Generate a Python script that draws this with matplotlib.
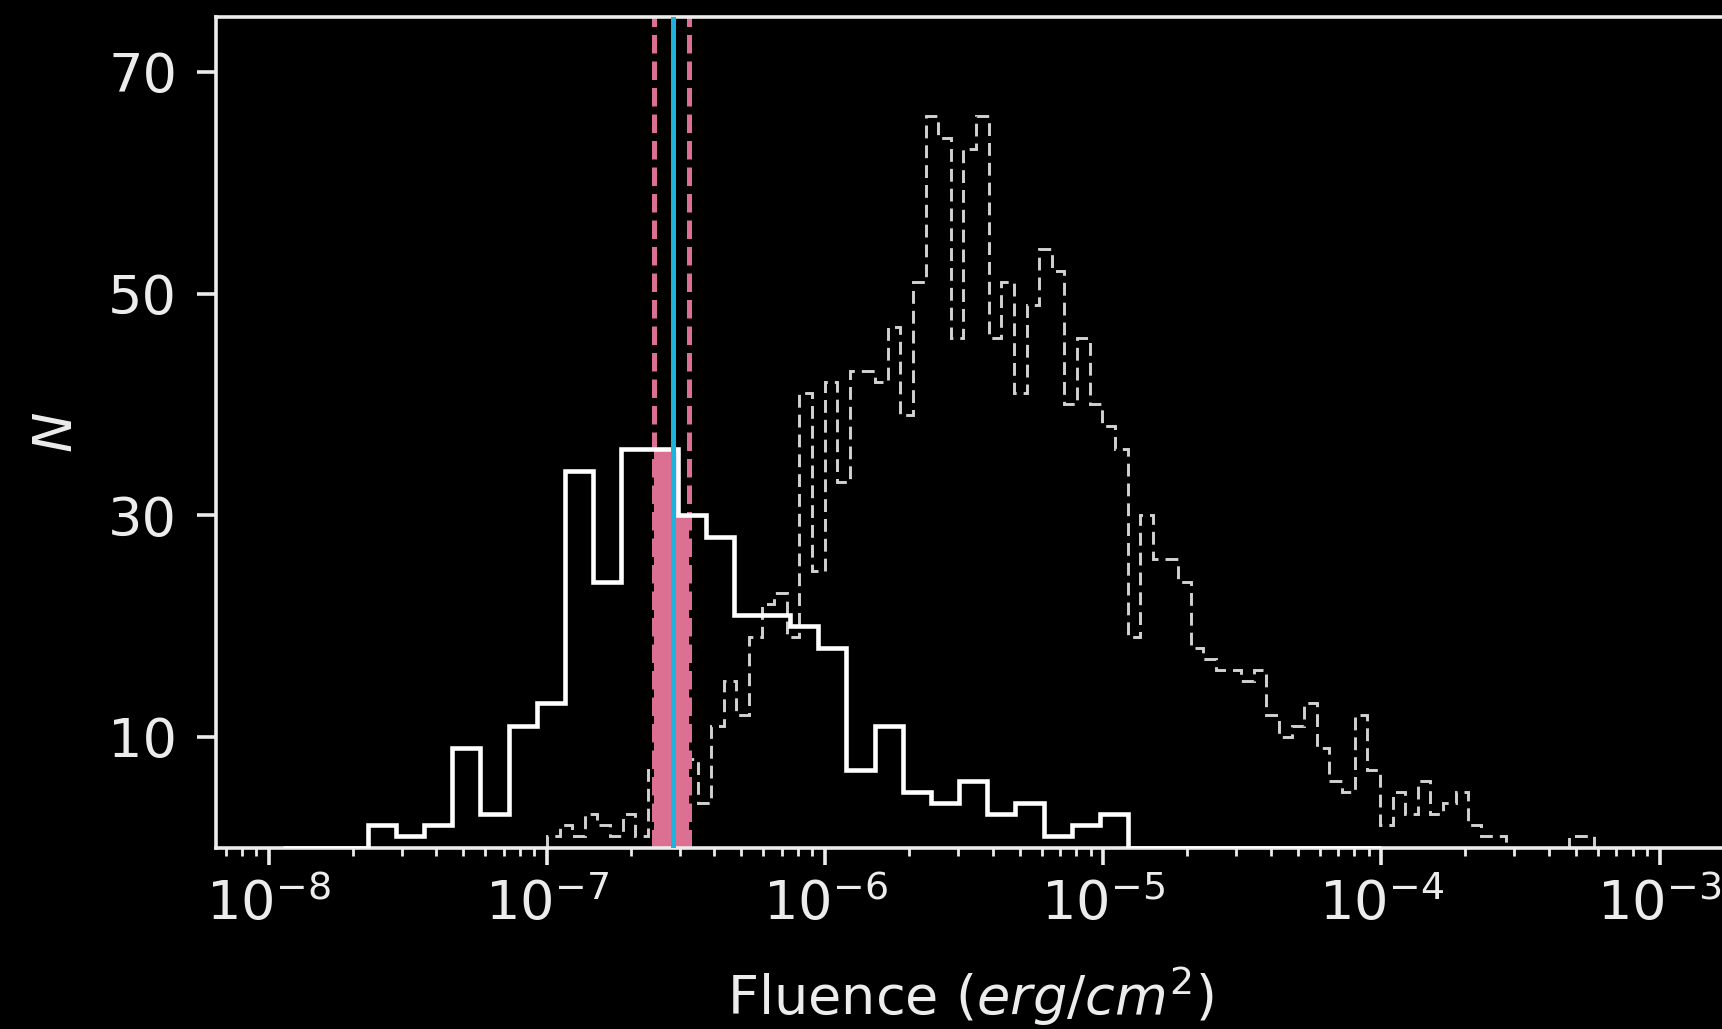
import numpy as np
import matplotlib
matplotlib.use('Agg')
import matplotlib.pyplot as plt

# bright sample: 39 log-spaced bins (exponents of the outer edges)
solid_lo, solid_hi = -7.948, -4.0
solid_counts = [0, 0, 0, 2, 1, 2, 9, 3, 11, 13, 34, 24, 36, 36, 30, 28, 21, 21, 20, 18,
                7, 11, 5, 4, 6, 3, 4, 1, 2, 3, 0, 0, 0, 0, 0, 0, 0, 0, 0]

# full sample: 83 log-spaced bins
dashed_lo, dashed_hi = -7.0, -3.234
dashed_counts = [1, 2, 1, 3, 2, 1, 3, 1, 7, 8, 6, 8, 4, 11, 15, 12, 19, 22, 23, 19,
                 41, 25, 42, 33, 43, 43, 42, 47, 39, 51, 66, 64, 46, 63, 66, 46, 51, 41, 49, 54,
                 52, 40, 46, 40, 38, 36, 19, 30, 26, 26, 24, 18, 17, 16, 16, 15, 16, 12, 10, 11,
                 13, 9, 6, 5, 12, 7, 2, 5, 3, 6, 3, 4, 5, 2, 1, 1, 0, 0, 0, 0,
                 0, 1, 1]

# median and its interval
fl_median = 2.844e-7
fl_low, fl_high = 2.423e-7, 3.245e-7

pink = 'palevioletred'
cyan = '#1cb3dc'
fg = '#ececec'

solid_edges = np.logspace(solid_lo, solid_hi, len(solid_counts) + 1)
dashed_edges = np.logspace(dashed_lo, dashed_hi, len(dashed_counts) + 1)

fig = plt.figure(figsize=(17.22, 10.29), dpi=100, facecolor='black')
ax = fig.add_axes([216 / 1722, 1 - 847.5 / 1029, (1724 - 216) / 1722, (847.5 - 16.5) / 1029])
ax.set_facecolor('black')
ax.set_xscale('log')

ax.hist(np.sqrt(dashed_edges[:-1] * dashed_edges[1:]), bins=dashed_edges, weights=dashed_counts,
        histtype='step', color='#d2d2d2', lw=2.1, linestyle=(0, (4.4, 2.4)), zorder=1)

# shade the histogram inside the interval
inner = solid_edges[(solid_edges > fl_low) & (solid_edges < fl_high)]
xs = np.concatenate([[fl_low], inner, [fl_high]])
idx = np.clip(np.searchsorted(solid_edges, xs, side='right') - 1, 0, len(solid_counts) - 1)
ys = np.asarray(solid_counts)[idx]
ax.fill_between(xs, ys, step='post', color=pink, lw=0, zorder=2)

ax.hist(np.sqrt(solid_edges[:-1] * solid_edges[1:]), bins=solid_edges, weights=solid_counts,
        histtype='step', color='white', lw=3.3, zorder=3)

ax.axvline(fl_low, color=pink, ls='--', lw=3.6, zorder=2.5)
ax.axvline(fl_high, color=pink, ls='--', lw=3.6, zorder=2.5)
ax.axvline(fl_median, color=cyan, lw=3.6, zorder=4)

ax.set_xlim(10 ** -8.190, 10 ** -2.7684)
ax.set_ylim(0, 75)
ax.set_yticks([10, 30, 50, 70])

for s in ax.spines.values():
    s.set_color(fg)
    s.set_linewidth(2.6)

ax.tick_params(axis='x', which='major', length=12, width=2.6, pad=10, labelsize=39, colors=fg)
ax.tick_params(axis='x', which='minor', length=6, width=2, colors=fg)
ax.tick_params(axis='y', which='major', length=14, width=2.6, pad=14, labelsize=39, colors=fg)

ax.set_xlabel(r'Fluence ($erg/cm^2$)', fontsize=39, color=fg, va='baseline')
ax.xaxis.set_label_coords(0.5, (847.5 - 1015) / 831)
ax.set_ylabel(r'$N$', fontsize=39, color=fg, va='baseline')
ax.yaxis.set_label_coords((71.7 - 216) / 1508, 0.5)

fig.savefig('out.png', dpi=100, facecolor='black')
